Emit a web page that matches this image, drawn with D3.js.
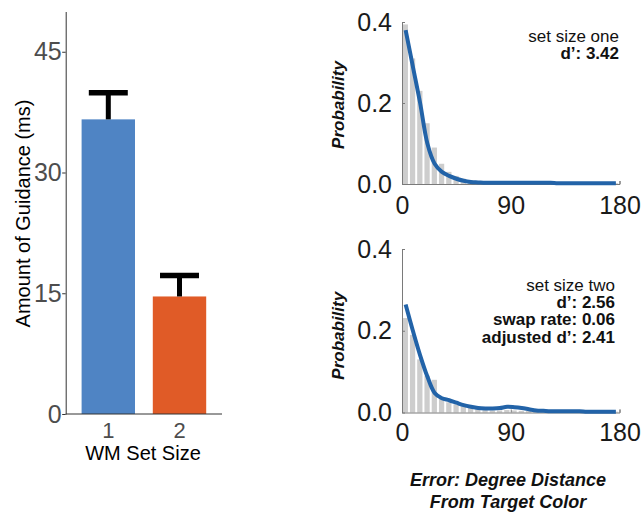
<!DOCTYPE html>
<html>
<head>
<meta charset="utf-8">
<script src="https://cdn.jsdelivr.net/npm/d3@7"></script>
<style>
  body { margin: 0; background: #fff; }
  svg { display: block; font-family: "Liberation Sans", Arial, Helvetica, sans-serif; }
</style>
</head>
<body>
<svg id="chart" width="641" height="512"></svg>
<script>
//Left panel data
const setSizes = ['1', '2'];
const guidance = [36.6, 14.6];
const guidanceUpper = [39.9, 17.2];
const guidanceTicks = [0, 15, 30, 45];
const barColors = ['#4f84c4', '#e05b27'];

//Right panels data: 6 degree bins from 0 to 180
const binCenters = [3, 9, 15, 21, 27, 33, 39, 45, 51, 57, 63, 69, 75, 81, 87,
  93, 99, 105, 111, 117, 123, 129, 135, 141, 147, 153, 159, 165, 171, 177];
const histOne = [0.394, 0.31, 0.23, 0.15, 0.09, 0.05, 0.03, 0.02, 0.013, 0.009,
  0.006, 0.005, 0.004, 0.003, 0.003, 0.003, 0.002, 0.002, 0.002, 0.002,
  0.002, 0.002, 0.002, 0.002, 0.002, 0.002, 0.002, 0.002, 0.002, 0.002];
const fitOne = [0.38, 0.29, 0.20, 0.10, 0.05, 0.03, 0.02, 0.013, 0.008, 0.005,
  0.004, 0.003, 0.003, 0.003, 0.003, 0.003, 0.003, 0.003, 0.003, 0.003,
  0.003, 0.002, 0.002, 0.002, 0.002, 0.002, 0.002, 0.002, 0.002, 0.002];
const histTwo = [0.231, 0.19, 0.13, 0.09, 0.08, 0.035, 0.025, 0.02, 0.015, 0.012,
  0.008, 0.006, 0.005, 0.005, 0.006, 0.005, 0.004, 0.004, 0.003, 0.003,
  0.003, 0.003, 0.003, 0.002, 0.002, 0.002, 0.002, 0.002, 0.002, 0.002];
const fitTwo = [0.264, 0.20, 0.14, 0.088, 0.048, 0.035, 0.03, 0.024, 0.018, 0.014,
  0.011, 0.01, 0.01, 0.011, 0.014, 0.013, 0.011, 0.008, 0.005, 0.004,
  0.003, 0.003, 0.003, 0.003, 0.003, 0.002, 0.002, 0.002, 0.002, 0.002];
const errorTicks = [0, 90, 180];
const probTicks = [0, 0.2, 0.4];
const labelsOne = [['set size one', 'normal'], ['d\u2019: 3.42', 'bold']];
const labelsTwo = [['set size two', 'normal'], ['d\u2019: 2.56', 'bold'],
  ['swap rate: 0.06', 'bold'], ['adjusted d\u2019: 2.41', 'bold']];

const svg = d3.select('#chart');

//---------- left bar chart ----------
const x = d3.scaleBand()
  .domain(setSizes)
  .range([72.7, 215.1])
  .paddingInner(0.25)
  .paddingOuter(0.125);
const y = d3.scaleLinear().domain([0, 50]).range([414, 11.5]);

const left = svg.append('g');

left.selectAll('rect.bar')
  .data(guidance)
  .enter()
  .append('rect')
  .attr('class', 'bar')
  .attr('x', (d, i) => x(setSizes[i]))
  .attr('width', x.bandwidth())
  .attr('y', d => y(d))
  .attr('height', d => y(0) - y(d))
  .attr('fill', (d, i) => barColors[i]);

//error bars (upper only)
const capW = x.bandwidth() * 0.73;
guidance.forEach((d, i) => {
  const cx = x(setSizes[i]) + x.bandwidth() / 2;
  left.append('line')
    .attr('x1', cx).attr('x2', cx)
    .attr('y1', y(d)).attr('y2', y(guidanceUpper[i]))
    .attr('stroke', '#000').attr('stroke-width', 5);
  left.append('line')
    .attr('x1', cx - capW / 2).attr('x2', cx + capW / 2)
    .attr('y1', y(guidanceUpper[i])).attr('y2', y(guidanceUpper[i]))
    .attr('stroke', '#000').attr('stroke-width', 5.5);
});

const yAxisLeft = left.append('g')
  .attr('transform', 'translate(65.7,0)')
  .call(d3.axisLeft(y).tickValues(guidanceTicks).tickSize(3.5).tickPadding(0.5).tickSizeOuter(0));
yAxisLeft.selectAll('text').attr('font-size', 25).attr('fill', '#4d4d4d')
  .attr('font-family', '"Liberation Sans", Arial, sans-serif');
yAxisLeft.selectAll('line').attr('stroke', '#333');
yAxisLeft.select('.domain').attr('stroke', '#333');

left.append('line')
  .attr('x1', 65.7).attr('x2', 222)
  .attr('y1', y(0)).attr('y2', y(0))
  .attr('stroke', '#333');

left.selectAll('text.xlab')
  .data(setSizes)
  .enter()
  .append('text')
  .attr('class', 'xlab')
  .attr('x', d => x(d) + x.bandwidth() / 2)
  .attr('y', 437.5)
  .attr('text-anchor', 'middle')
  .attr('font-size', 22)
  .attr('fill', '#4d4d4d')
  .text(d => d);

left.append('text')
  .attr('x', 143)
  .attr('y', 460)
  .attr('text-anchor', 'middle')
  .attr('font-size', 20)
  .attr('fill', '#000')
  .text('WM Set Size');

left.append('text')
  .attr('transform', 'translate(30,213.5) rotate(-90)')
  .attr('text-anchor', 'middle')
  .attr('font-size', 20)
  .attr('fill', '#000')
  .text('Amount of Guidance (ms)');

//---------- right histogram panels ----------
function drawPanel(hist, fit, labels, opts) {
  const px = d3.scaleLinear().domain([0, 180]).range([402, 619.5]);
  const py = d3.scaleLinear().domain([0, 0.4]).range([opts.bottom, opts.top]);
  const g = svg.append('g');

  const binW = px(6) - px(0);
  g.selectAll('rect.hist')
    .data(hist)
    .enter()
    .append('rect')
    .attr('class', 'hist')
    .attr('x', (d, i) => px(binCenters[i] - 3) + 0.7)
    .attr('width', binW - 2)
    .attr('y', d => py(d))
    .attr('height', d => py(0) - py(d))
    .attr('fill', '#cdcdcd');

  const xAxis = g.append('g')
    .attr('transform', `translate(0,${opts.bottom})`)
    .call(d3.axisBottom(px).tickValues(errorTicks).tickSizeInner(-3).tickSizeOuter(-3).tickPadding(opts.xPad));
  const yAxis = g.append('g')
    .attr('transform', 'translate(402,0)')
    .call(d3.axisLeft(py).tickValues(probTicks).tickFormat(d3.format('.1f'))
      .tickSizeInner(-3).tickSizeOuter(0).tickPadding(10));
  [xAxis, yAxis].forEach(a => {
    a.selectAll('text').attr('font-size', 25).attr('fill', '#1a1a1a')
      .attr('font-family', '"Liberation Sans", Arial, sans-serif');
    a.selectAll('line').attr('stroke', '#7a7a7a');
    a.select('.domain').attr('stroke', '#7a7a7a');
  });

  const line = d3.line()
    .x((d, i) => px(binCenters[i]))
    .y(d => py(d))
    .curve(d3.curveCatmullRom);
  g.append('path')
    .datum(fit)
    .attr('d', line)
    .attr('fill', 'none')
    .attr('stroke', '#2263a8')
    .attr('stroke-width', 4);

  g.append('text')
    .attr('transform', `translate(${opts.probX},${(opts.top + opts.bottom) / 2 + opts.probDy}) rotate(-90)`)
    .attr('text-anchor', 'middle')
    .attr('font-size', 17)
    .attr('font-weight', 'bold')
    .attr('font-style', 'italic')
    .attr('fill', '#111')
    .text('Probability');

  g.selectAll('text.note')
    .data(labels)
    .enter()
    .append('text')
    .attr('class', 'note')
    .attr('x', opts.noteX)
    .attr('y', (d, i) => opts.noteY + i * 17.2)
    .attr('text-anchor', 'end')
    .attr('font-size', 17)
    .attr('font-weight', d => d[1])
    .attr('fill', '#111')
    .text(d => d[0]);
}

drawPanel(histOne, fitOne, labelsOne,
  { top: 22, bottom: 184, xPad: 12, probX: 344, probDy: 2, noteX: 619, noteY: 41.5 });
drawPanel(histTwo, fitTwo, labelsTwo,
  { top: 249, bottom: 412.5, xPad: 11, probX: 344, probDy: 5, noteX: 615, noteY: 291 });

svg.append('text')
  .attr('x', 508)
  .attr('y', 486)
  .attr('text-anchor', 'middle')
  .attr('font-size', 18)
  .attr('font-weight', 'bold')
  .attr('font-style', 'italic')
  .attr('fill', '#111')
  .text('Error: Degree Distance');
svg.append('text')
  .attr('x', 508)
  .attr('y', 508)
  .attr('text-anchor', 'middle')
  .attr('font-size', 18)
  .attr('font-weight', 'bold')
  .attr('font-style', 'italic')
  .attr('fill', '#111')
  .text('From Target Color');
</script>
</body>
</html>
